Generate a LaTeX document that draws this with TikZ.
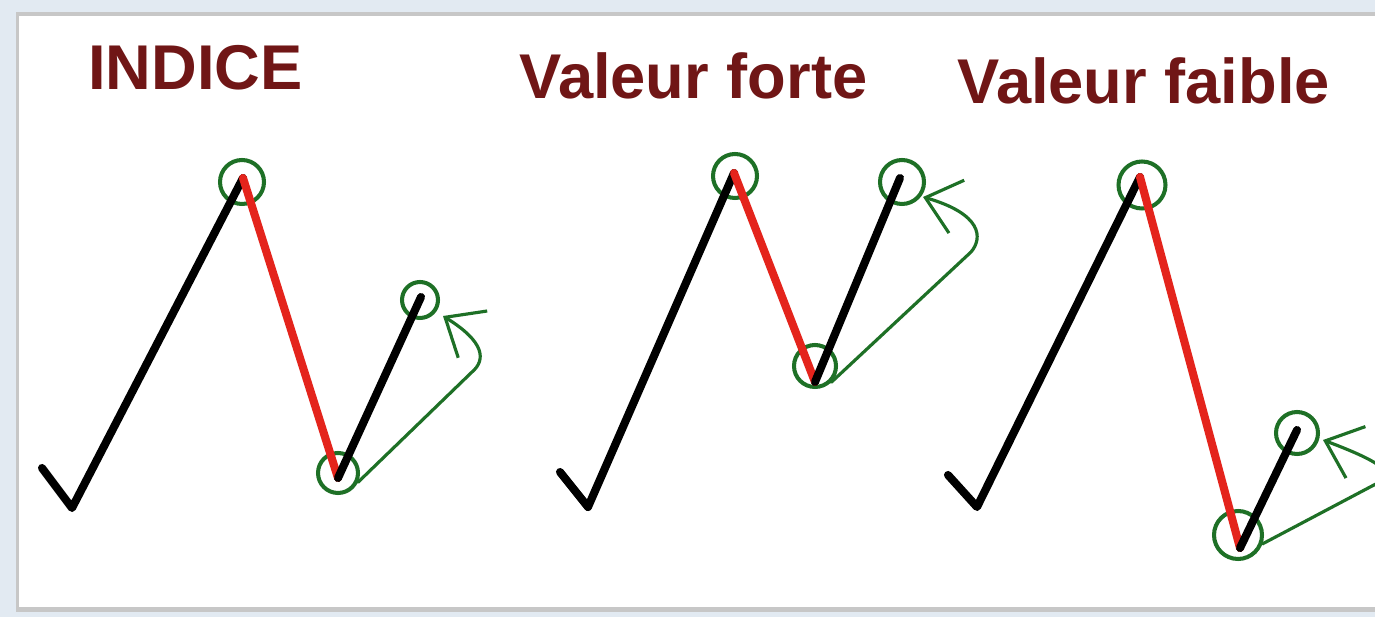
\documentclass[tikz,border=0pt]{standalone}
\usepackage{fontspec}
\newfontfamily\headfont{Liberation Sans}
\usetikzlibrary{arrows.meta}

\definecolor{headred}{RGB}{112,22,22}
\definecolor{fallred}{RGB}{228,36,28}
\definecolor{ringgreen}{RGB}{30,112,38}
\definecolor{pagebg}{RGB}{226,234,242}

\begin{document}
\begin{tikzpicture}[
    x=0.02cm, y=-0.02cm,
    heading/.style={anchor=base west, inner sep=0pt, text=headred, font=\headfont\bfseries\fontsize{36}{40}\selectfont},
    leg/.style={line width=4.6pt, line cap=round, line join=round},
    fall/.style={leg, draw=fallred},
    ring/.style={circle, draw=ringgreen, line width=2.3pt, inner sep=0pt, minimum size=0.88cm},
    pullback/.style={draw=ringgreen, line width=1.8pt, line cap=round, -{Straight Barb[length=6.5mm, width=11mm]}}
]
\useasboundingbox (0,0) rectangle (1375,617);
\fill[pagebg] (0,0) rectangle (1375,617);
\fill[black!22] (16,12) rectangle (1375,612);
\fill[white] (19,16) rectangle (1375,607);

% titles
\node[heading] (indice) at (88,90) {INDICE};
\node[heading] (forte) at (519,99) {Valeur forte};
\node[heading] (faible) at (957,104) {Valeur faible};

% indice
\coordinate (s1) at (42,468);
\coordinate (b1) at (72,508);
\coordinate (p1) at (243,178);
\coordinate (t1) at (338,478);
\coordinate (e1) at (421,297);
\node[ring] (cp1) at (242,182) {};
\node[ring, minimum size=0.8cm] (ct1) at (338,473) {};
\node[ring, minimum size=0.72cm] (ce1) at (420,300) {};
\draw[leg] (s1) -- (b1) -- (p1);
\draw[fall] (p1) -- (t1);
\draw[leg] (t1) -- (e1);
\coordinate (h1) at (443,316);
\draw[pullback] (ct1.-25) -- (472,372) .. controls (486,360) and (485,342) .. (h1);

% valeur forte
\coordinate (s2) at (560,472);
\coordinate (b2) at (588,507);
\coordinate (p2) at (734,173);
\coordinate (t2) at (815,382);
\coordinate (e2) at (900,178);
\node[ring] (cp2) at (735,176) {};
\node[ring, minimum size=0.84cm] (ct2) at (815,366) {};
\node[ring] (ce2) at (902,182) {};
\draw[leg] (s2) -- (b2) -- (p2);
\draw[fall] (p2) -- (t2);
\draw[leg] (t2) -- (e2);
\coordinate (h2) at (923,197);
\draw[pullback] (ct2.-45) -- (971,252) .. controls (983,238) and (982,214) .. (h2);

% valeur faible
\coordinate (s3) at (948,475);
\coordinate (b3) at (977,507);
\coordinate (p3) at (1140,177);
\coordinate (t3) at (1240,548);
\coordinate (e3) at (1297,430);
\node[ring, minimum size=0.94cm] (cp3) at (1142,185) {};
\node[ring, minimum size=0.96cm] (ct3) at (1238,535) {};
\node[ring, minimum size=0.84cm] (ce3) at (1297,433) {};
\draw[leg] (s3) -- (b3) -- (p3);
\draw[fall] (p3) -- (t3);
\draw[leg] (t3) -- (e3);
\coordinate (h3) at (1323,440);
\draw[pullback] (ct3.-20) -- (1372,486) .. controls (1395,475) and (1392,466) .. (h3);
\end{tikzpicture}
\end{document}
